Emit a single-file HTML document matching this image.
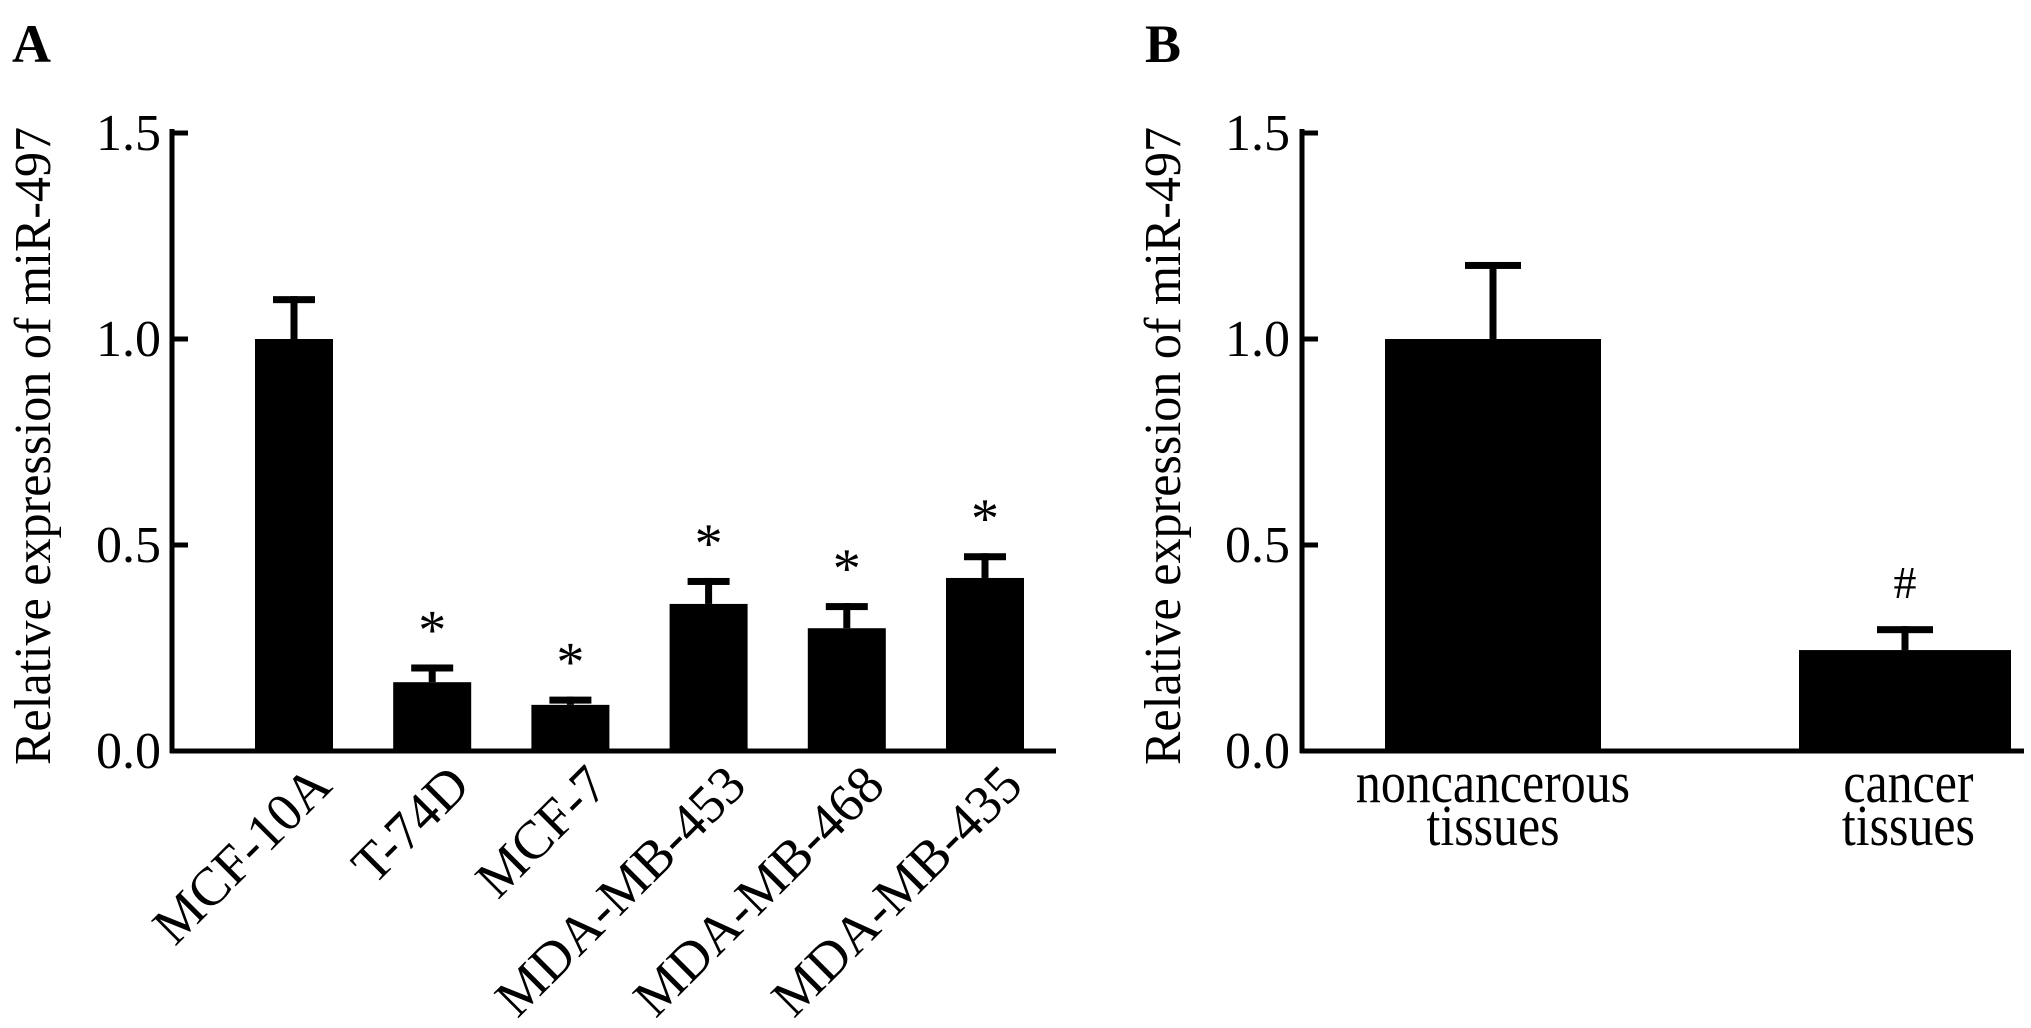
<!DOCTYPE html>
<html><head><meta charset="utf-8"><style>
html,body{margin:0;padding:0;background:#fff;}
svg{display:block;font-family:"Liberation Serif","Times New Roman",serif;}
</style></head><body>
<svg id="fig" width="2031" height="1028" viewBox="0 0 2031 1028">
<rect width="2031" height="1028" fill="#fff"/>
<text x="12" y="62" font-size="54" font-weight="bold">A</text>
<text x="1145" y="62" font-size="54" font-weight="bold">B</text>
<text transform="translate(50,446) rotate(-90)" text-anchor="middle" font-size="52" textLength="638" lengthAdjust="spacingAndGlyphs">Relative expression of miR-497</text>
<text transform="translate(1180,446) rotate(-90)" text-anchor="middle" font-size="52" textLength="638" lengthAdjust="spacingAndGlyphs">Relative expression of miR-497</text>
<g id="pa"></g><g id="pb"></g>
</svg>
<script>
const catsA = ["MCF-10A","T-74D","MCF-7","MDA-MB-453","MDA-MB-468","MDA-MB-435"];
const valsA = [1.0, 0.167, 0.112, 0.357, 0.298, 0.42];
const errA = [1.104, 0.21, 0.132, 0.42, 0.359, 0.48];
const markA = ["", "*", "*", "*", "*", "*"];
const catsB = [["noncancerous","tissues"],["cancer","tissues"]];
const valsB = [1.0, 0.245];
const errB = [1.187, 0.303];
const markB = ["", "#"];
const ticks = [0.0, 0.5, 1.0, 1.5];
const tickLabels = ["0.0","0.5","1.0","1.5"];

const NS = "http://www.w3.org/2000/svg";
function mk(parent, tag, attrs){const e=document.createElementNS(NS,tag);for(const k in attrs)e.setAttribute(k,attrs[k]);parent.appendChild(e);return e;}
function yScale(v){return 751 - v*412;}

function axes(g, ax, xEnd, labelRight, tag){
  const a = mk(g,"line",{x1:ax,y1:yScale(1.5)-4,x2:ax,y2:753,stroke:"#000","stroke-width":5});
  
  
  const b = mk(g,"line",{x1:ax-2,y1:751,x2:xEnd,y2:751,stroke:"#000","stroke-width":5});
  
  
  ticks.forEach((t,i)=>{
    const tk = mk(g,"line",{x1:ax,y1:yScale(t),x2:ax+16,y2:yScale(t),stroke:"#000","stroke-width":5});
    
    
    const tl = mk(g,"text",{x:labelRight,y:yScale(t)+17,"text-anchor":"end","font-size":52});
    tl.textContent = tickLabels[i];
    
    
  });
}
function bar(g, left, w, v, e, mark, capW, tag){
  const cx = left + w/2;
  const st = mk(g,"line",{x1:cx,y1:yScale(e),x2:cx,y2:yScale(v),stroke:"#000","stroke-width":7});
  
  
  const cp = mk(g,"rect",{x:cx-capW/2,y:yScale(e),width:capW,height:7,fill:"#000"});
  
  
  const r = mk(g,"rect",{x:left,y:yScale(v),width:w,height:751-yScale(v),fill:"#000"});
  
  
  if(mark){
    const isStar = mark==="*";
    const m = mk(g,"text",{x:cx,y:yScale(e)-(isStar?16:28),"text-anchor":"middle","font-size":isStar?56:46});
    m.textContent = mark;
    
    
  }
}
const pa = document.getElementById("pa");
axes(pa, 172, 1056, 161, "a");
catsA.forEach((c,i)=>{
  const left = 255 + i*138.2;
  bar(pa, left, 78, valsA[i], errA[i], markA[i], 42, c.toLowerCase());
  const t = mk(pa,"text",{transform:`translate(${left+39+40},788) rotate(-45)`,"text-anchor":"end","font-size":54});
  t.textContent = c;
  
  
});
const pb = document.getElementById("pb");
axes(pb, 1302, 2024, 1290, "b");
const leftsB = [1385, 1799];
const widthsB = [216, 212];
catsB.forEach((c,i)=>{
  bar(pb, leftsB[i], widthsB[i], valsB[i], errB[i], markB[i], 56, c[0]);
  const cx = leftsB[i] + widthsB[i]/2;
  c.forEach((line,j)=>{
    const t = mk(pb,"text",{x:cx+(i===1?4:0),y:802+j*43,"text-anchor":"middle","font-size":58,transform:`translate(${cx} 0) scale(0.86 1) translate(${-cx} 0)`});
    t.textContent = line;
    
    
  });
});
</script>
</body></html>
